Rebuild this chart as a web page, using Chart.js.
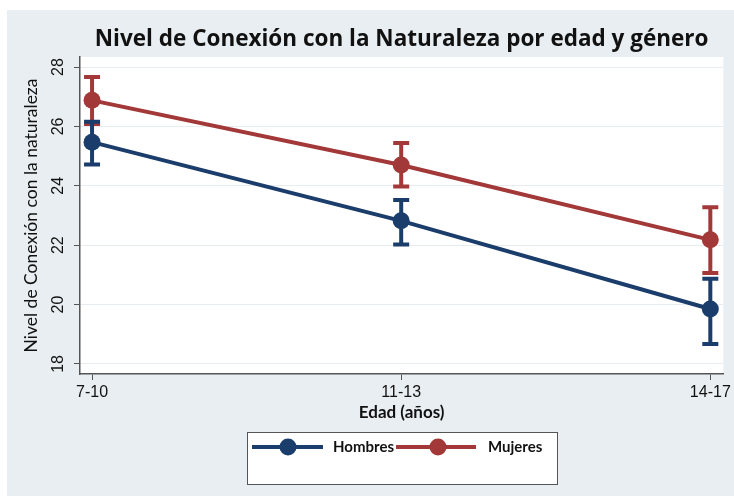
<!DOCTYPE html>
<html><head><meta charset="utf-8">
<script src="https://cdn.jsdelivr.net/npm/chart.js@4"></script>
<style>html,body{margin:0;padding:0;background:#fff}#wrap{width:734px;height:499px}</style>
</head><body><div id="wrap"><canvas id="c" width="734" height="499"></canvas></div>
<script>
const categories = ['7-10', '11-13', '14-17'];
const seriesNames = ['Hombres', 'Mujeres'];
const hombres = [25.47, 22.82, 19.85];
const hombresLow = [24.72, 22.02, 18.67];
const hombresHigh = [26.16, 23.52, 20.87];
const mujeres = [26.88, 24.70, 22.18];
const mujeresLow = [26.08, 23.98, 21.06];
const mujeresHigh = [27.67, 25.44, 23.28];
const yTicks = [18, 20, 22, 24, 26, 28];

const colorH = '#1b3d6c';
const colorM = '#a23838';
const bgColor = '#e8eef1';

const background = {
  id: 'background',
  beforeDraw(chart) {
    const ctx = chart.ctx, a = chart.chartArea;
    ctx.save();
    ctx.fillStyle = '#ffffff';
    ctx.fillRect(0, 0, chart.width, chart.height);
    ctx.fillStyle = bgColor;
    ctx.fillRect(7, 10, chart.width - 7, chart.height - 13);
    ctx.fillStyle = '#ffffff';
    ctx.fillRect(a.left, a.top, a.right - a.left, a.bottom - a.top);
    ctx.restore();
  }
};

const errorBars = {
  id: 'errorBars',
  beforeDatasetsDraw(chart) {
    const ctx = chart.ctx, xs = chart.scales.x, ys = chart.scales.y;
    const sets = [[mujeresLow, mujeresHigh, colorM], [hombresLow, hombresHigh, colorH]];
    ctx.save();
    sets.forEach(([lo, hi, col]) => {
      ctx.strokeStyle = col; ctx.lineWidth = 4; ctx.lineCap = 'butt';
      lo.forEach((l, i) => {
        const x = xs.getPixelForValue(i), y1 = ys.getPixelForValue(l), y2 = ys.getPixelForValue(hi[i]);
        ctx.beginPath();
        ctx.moveTo(x, y1); ctx.lineTo(x, y2);
        ctx.moveTo(x - 8, y1); ctx.lineTo(x + 8, y1);
        ctx.moveTo(x - 8, y2); ctx.lineTo(x + 8, y2);
        ctx.stroke();
      });
    });
    ctx.restore();
  }
};

const boxLegend = {
  id: 'boxLegend',
  afterDraw(chart) {
    const ctx = chart.ctx;
    ctx.save();
    ctx.fillStyle = '#ffffff';
    ctx.fillRect(247.5, 432.5, 310, 52);
    ctx.strokeStyle = '#555';
    ctx.lineWidth = 1;
    ctx.strokeRect(247.5, 432.5, 310, 52);
    const items = [
      { x0: 252, x1: 323, cx: 288, tx: 333 },
      { x0: 396, x1: 476, cx: 438, tx: 488 }
    ];
    const y = 447;
    chart.data.datasets.forEach((ds, i) => {
      const it = items[i];
      ctx.strokeStyle = ds.borderColor; ctx.lineWidth = 4;
      ctx.beginPath(); ctx.moveTo(it.x0, y); ctx.lineTo(it.x1, y); ctx.stroke();
      ctx.fillStyle = ds.borderColor;
      ctx.beginPath(); ctx.arc(it.cx, y, 8.5, 0, Math.PI * 2); ctx.fill();
      ctx.fillStyle = '#111';
      ctx.font = 'bold 15px Lato';
      ctx.textBaseline = 'middle';
      ctx.textAlign = 'left';
      ctx.fillText(ds.label, it.tx, y);
    });
    ctx.restore();
  }
};

new Chart(document.getElementById('c'), {
  type: 'line',
  data: {
    datasets: [
      { label: seriesNames[0], data: hombres.map((v, i) => ({ x: i, y: v })), borderColor: colorH, backgroundColor: colorH,
        borderWidth: 4, pointRadius: 8.5, pointHoverRadius: 8.5, pointBorderWidth: 0 },
      { label: seriesNames[1], data: mujeres.map((v, i) => ({ x: i, y: v })), borderColor: colorM, backgroundColor: colorM,
        borderWidth: 4, pointRadius: 8.5, pointHoverRadius: 8.5, pointBorderWidth: 0 }
    ]
  },
  options: {
    responsive: false,
    devicePixelRatio: 1,
    animation: false,
    layout: { padding: { top: 0, left: 0, right: 10, bottom: 0 } },
    plugins: {
      legend: { display: false },
      tooltip: { enabled: false },
      title: {
        display: true,
        fullSize: false,
        text: 'Nivel de Conexión con la Naturaleza por edad y género',
        color: '#111',
        font: { family: 'Open Sans', size: 22.5, weight: 'bold', lineHeight: 1.2 },
        padding: { top: 26.5, bottom: 3.5 }
      }
    },
    scales: {
      x: {
        type: 'linear',
        min: -0.039,
        max: 2.042,
        afterFit(s) { s.height = 125; },
        afterBuildTicks(s) { s.ticks = categories.map((c, i) => ({ value: i })); },
        ticks: {
          callback: (v) => categories[v],
          color: '#111',
          font: { family: 'Liberation Sans', size: 16 },
          padding: 3,
          maxRotation: 0
        },
        grid: { drawOnChartArea: false, drawTicks: true, tickLength: 6, tickColor: '#555' },
        border: { display: true, color: '#555', width: 1.5 },
        title: {
          display: true, text: 'Edad (años)', color: '#111',
          font: { family: 'Lato', size: 17, weight: 'bold' },
          padding: { top: 2, bottom: 76 }
        }
      },
      y: {
        min: 17.66,
        max: 28.34,
        afterFit(s) { s.width = 80; },
        afterBuildTicks(s) { s.ticks = yTicks.map(v => ({ value: v })); },
        ticks: {
          color: '#111',
          font: { family: 'Liberation Sans', size: 16 },
          minRotation: 90, maxRotation: 90,
          crossAlign: 'center',
          padding: 7
        },
        grid: { color: '#e6ecef', lineWidth: 1, tickLength: 6, tickColor: '#555' },
        border: { display: true, color: '#555', width: 1.5 },
        title: {
          display: true, text: 'Nivel de Conexión con la naturaleza', color: '#111',
          font: { family: 'Lato', size: 17.5 },
          padding: { top: 21 }
        }
      }
    }
  },
  plugins: [background, errorBars, boxLegend]
});
</script>
</body></html>
